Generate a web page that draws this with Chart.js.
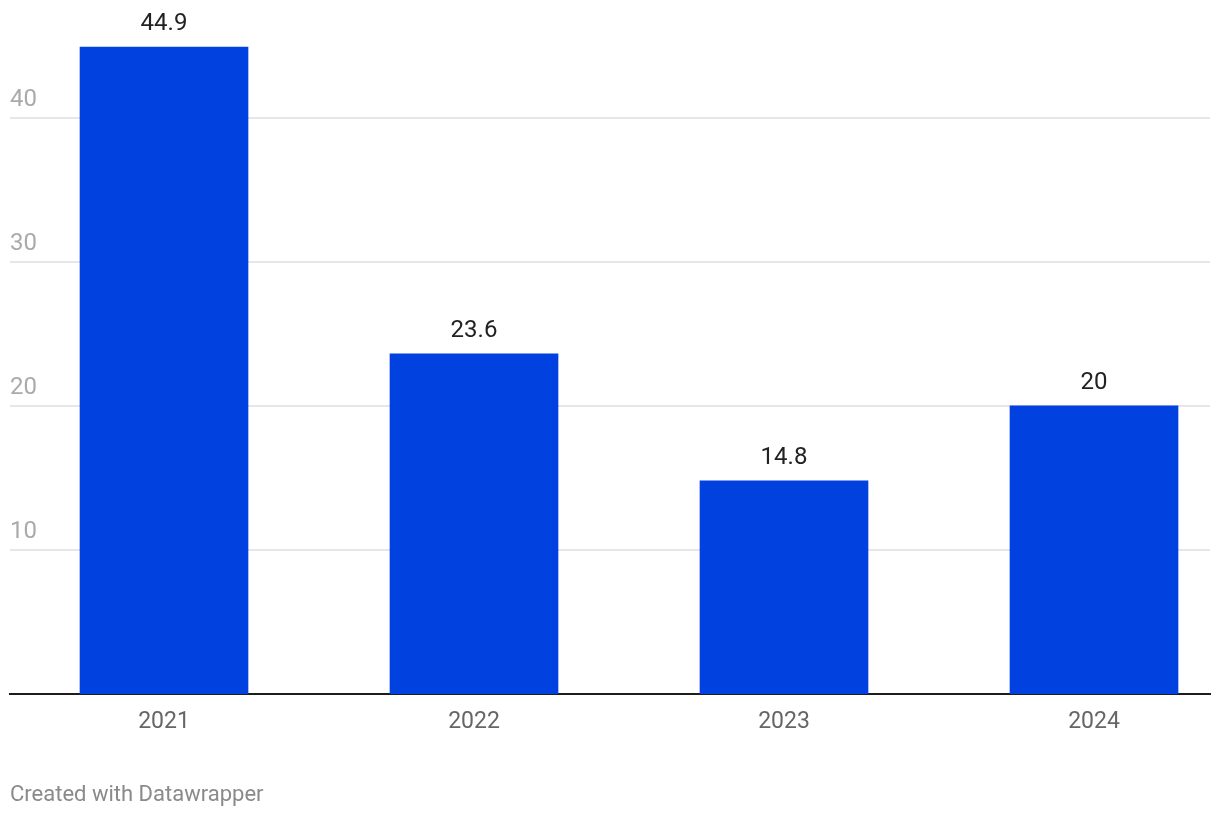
<!DOCTYPE html>
<html>
<head>
<meta charset="utf-8">
<script src="https://cdn.jsdelivr.net/npm/chart.js@4/dist/chart.umd.min.js"></script>
<style>
  body { margin: 0; background: #fff; }
  #wrap { position: relative; width: 1220px; height: 816px; }
  #nota {
    position: absolute; left: 10px; top: 781px;
    font-family: Roboto, sans-serif; font-size: 22px; color: #8a8a8a;
  }
</style>
</head>
<body>
<div id="wrap">
  <canvas id="barras" width="1220" height="816"></canvas>
  <div id="nota">Created with Datawrapper</div>
</div>
<script>
const anios = ["2021", "2022", "2023", "2024"];
const valores = [44.9, 23.6, 14.8, 20];
const ticksY = [10, 20, 30, 40];

// etiquetas de valor encima de cada barra
const etiquetasValor = {
    id: "etiquetasValor",
    afterDatasetsDraw(chart) {
        const ctx = chart.ctx;
        ctx.save();
        ctx.font = "24px Roboto";
        ctx.fillStyle = "#222";
        ctx.textAlign = "center";
        ctx.textBaseline = "middle";
        chart.getDatasetMeta(0).data.forEach((bar, i) => {
            ctx.fillText(String(valores[i]), bar.x, bar.y - 23);
        });
        ctx.restore();
    }
};

function cargaGraficoBarras() {
    const datos = {
        datasets: [{
            backgroundColor: "#0041E0",
            barThickness: 168,
            data: valores.map((v, i) => ({ x: i, y: v }))
        }]
    };

    const config = {
        type: "bar",
        data: datos,
        plugins: [etiquetasValor],
        options: {
            responsive: false,
            animation: false,
            layout: { autoPadding: false, padding: { left: 0, right: 10, top: 0, bottom: 0 } },
            plugins: { legend: { display: false }, tooltip: { enabled: false } },
            scales: {
                x: {
                    type: "linear",
                    offset: false,
                    min: -0.4968,
                    max: 3.3742,
                    grid: { display: false },
                    border: { color: "#1d1d1d", width: 2 },
                    afterBuildTicks: s => { s.ticks = anios.map((_, i) => ({ value: i })); },
                    afterFit: s => { s.height = 122; s.paddingLeft = 0; s.paddingRight = 0; },
                    ticks: {
                        callback: v => anios[v] ?? "",
                        font: { family: "Roboto", size: 23 },
                        color: "#666",
                        padding: 6,
                        maxRotation: 0,
                        autoSkip: false
                    }
                },
                y: {
                    min: 0,
                    max: 48.16,
                    grid: { color: "#e6e6e6", lineWidth: 2, drawTicks: false },
                    border: { display: false },
                    afterBuildTicks: s => { s.ticks = ticksY.map(v => ({ value: v })); },
                    afterFit: s => { s.width = 10; s.paddingTop = 0; s.paddingBottom = 0; },
                    ticks: {
                        mirror: true,
                        padding: 0,
                        labelOffset: -18,
                        font: { family: "Roboto", size: 24 },
                        color: "#aaa"
                    }
                }
            }
        }
    };

    const ctx = document.getElementById("barras").getContext("2d");
    new Chart(ctx, config);
}

cargaGraficoBarras();
</script>
</body>
</html>
